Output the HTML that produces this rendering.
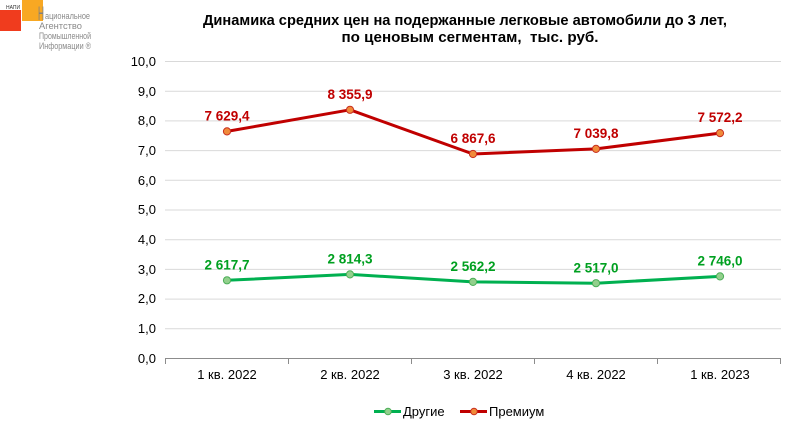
<!DOCTYPE html>
<html><head><meta charset="utf-8"><style>
html,body{margin:0;padding:0;background:#fff;}
svg{display:block;font-family:"Liberation Sans",Arial,sans-serif;}
</style></head><body>
<svg width="791" height="426" viewBox="0 0 791 426" xmlns="http://www.w3.org/2000/svg">
<!-- logo -->
<rect x="0" y="10" width="21" height="21" fill="#f03c1e"/>
<rect x="22" y="0" width="21" height="21" fill="#f8a823"/>
<text x="6" y="9" font-size="5" fill="#333">НАПИ</text>
<text x="38" y="20" font-size="19" fill="#808080" textLength="6" lengthAdjust="spacingAndGlyphs">Н</text>
<g font-size="9" fill="#8a8a8a">
<text x="45" y="19" textLength="45" lengthAdjust="spacingAndGlyphs">ациональное</text>
<text x="39" y="29" textLength="43" lengthAdjust="spacingAndGlyphs">Агентство</text>
<text x="39" y="39" textLength="52" lengthAdjust="spacingAndGlyphs">Промышленной</text>
<text x="39" y="49" textLength="52" lengthAdjust="spacingAndGlyphs">Информации ®</text>
</g>
<!-- title -->
<g font-weight="bold" font-size="15" fill="#000" text-anchor="middle">
<text x="465" y="25" textLength="524" lengthAdjust="spacingAndGlyphs">Динамика средних цен на подержанные легковые автомобили до 3 лет,</text>
<text x="470" y="42" textLength="257" lengthAdjust="spacingAndGlyphs" xml:space="preserve">по ценовым сегментам,  тыс. руб.</text>
</g>
<!-- grid -->
<g stroke="#d9d9d9" stroke-width="1">
<line x1="165" y1="61.5" x2="781" y2="61.5"/>
<line x1="165" y1="91.2" x2="781" y2="91.2"/>
<line x1="165" y1="120.9" x2="781" y2="120.9"/>
<line x1="165" y1="150.6" x2="781" y2="150.6"/>
<line x1="165" y1="180.3" x2="781" y2="180.3"/>
<line x1="165" y1="210" x2="781" y2="210"/>
<line x1="165" y1="239.7" x2="781" y2="239.7"/>
<line x1="165" y1="269.4" x2="781" y2="269.4"/>
<line x1="165" y1="299.1" x2="781" y2="299.1"/>
<line x1="165" y1="328.8" x2="781" y2="328.8"/>
</g>
<g stroke="#8c8c8c" stroke-width="1">
<line x1="165" y1="358.5" x2="781" y2="358.5"/>
<line x1="165.5" y1="358" x2="165.5" y2="364"/>
<line x1="288.5" y1="358" x2="288.5" y2="364"/>
<line x1="411.5" y1="358" x2="411.5" y2="364"/>
<line x1="534.5" y1="358" x2="534.5" y2="364"/>
<line x1="657.5" y1="358" x2="657.5" y2="364"/>
<line x1="780.5" y1="358" x2="780.5" y2="364"/>
</g>
<!-- y labels -->
<g font-size="13" fill="#000" text-anchor="end">
<text x="156" y="66">10,0</text>
<text x="156" y="96">9,0</text>
<text x="156" y="125">8,0</text>
<text x="156" y="155">7,0</text>
<text x="156" y="185">6,0</text>
<text x="156" y="214">5,0</text>
<text x="156" y="244">4,0</text>
<text x="156" y="274">3,0</text>
<text x="156" y="303">2,0</text>
<text x="156" y="333">1,0</text>
<text x="156" y="363">0,0</text>
</g>
<!-- x labels -->
<g font-size="13" fill="#000" text-anchor="middle">
<text x="227" y="379">1 кв. 2022</text>
<text x="350" y="379">2 кв. 2022</text>
<text x="473" y="379">3 кв. 2022</text>
<text x="596" y="379">4 кв. 2022</text>
<text x="720" y="379">1 кв. 2023</text>
</g>
<!-- premium -->
<polyline points="227,131.4 350,109.8 473,154 596,148.9 720,133.1" fill="none" stroke="#c00000" stroke-width="3" stroke-linejoin="round"/>
<g fill="#f08a3a" stroke="#c83020" stroke-width="1">
<circle cx="227" cy="131.4" r="3.6"/>
<circle cx="350" cy="109.8" r="3.6"/>
<circle cx="473" cy="154" r="3.6"/>
<circle cx="596" cy="148.9" r="3.6"/>
<circle cx="720" cy="133.1" r="3.6"/>
</g>
<g font-size="13.5" font-weight="bold" fill="#c00000" text-anchor="middle">
<text x="227" y="120.5">7 629,4</text>
<text x="350" y="99">8 355,9</text>
<text x="473" y="143">6 867,6</text>
<text x="596" y="138">7 039,8</text>
<text x="720" y="122">7 572,2</text>
</g>
<!-- others -->
<polyline points="227,280.3 350,274.4 473,281.9 596,283.2 720,276.4" fill="none" stroke="#00b050" stroke-width="3" stroke-linejoin="round"/>
<g fill="#92d08c" stroke="#4cae58" stroke-width="1">
<circle cx="227" cy="280.3" r="3.6"/>
<circle cx="350" cy="274.4" r="3.6"/>
<circle cx="473" cy="281.9" r="3.6"/>
<circle cx="596" cy="283.2" r="3.6"/>
<circle cx="720" cy="276.4" r="3.6"/>
</g>
<g font-size="13.5" font-weight="bold" fill="#00a020" text-anchor="middle">
<text x="227" y="269.5">2 617,7</text>
<text x="350" y="263.5">2 814,3</text>
<text x="473" y="271">2 562,2</text>
<text x="596" y="272.5">2 517,0</text>
<text x="720" y="265.5">2 746,0</text>
</g>
<!-- legend -->
<line x1="374" y1="411.5" x2="401" y2="411.5" stroke="#00b050" stroke-width="3"/>
<circle cx="388" cy="411.5" r="3.3" fill="#92d08c" stroke="#4cae58" stroke-width="1"/>
<text x="403" y="416" font-size="13" fill="#000">Другие</text>
<line x1="460" y1="411.5" x2="487" y2="411.5" stroke="#c00000" stroke-width="3"/>
<circle cx="474" cy="411.5" r="3.3" fill="#f08a3a" stroke="#c83020" stroke-width="1"/>
<text x="489" y="416" font-size="13" fill="#000">Премиум</text>
</svg>
</body></html>
